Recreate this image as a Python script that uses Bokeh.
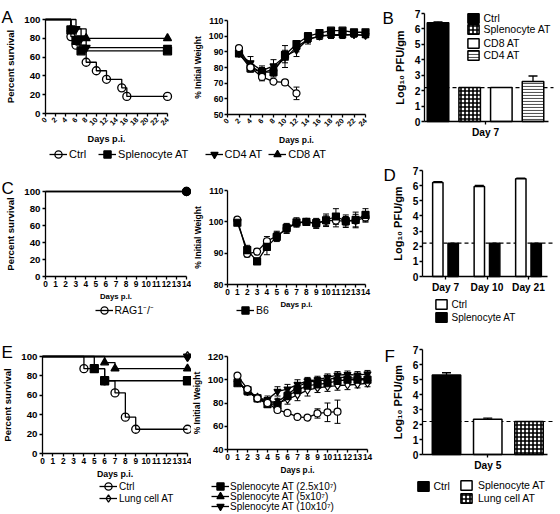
import math
from bokeh.plotting import figure
from bokeh.layouts import row, column
from bokeh.models import (Range1d, FixedTicker, Legend, LegendItem,
                          Label, Whisker, TeeHead, ColumnDataSource)
from bokeh.embed import file_html
from bokeh.resources import INLINE

# ============================ DATA ============================
# Panel A - survival (Kaplan-Meier, %)
a_surv_ctrl_day = [0, 5, 6, 8, 10, 12, 15, 16, 24]
a_surv_ctrl_pct = [100, 81.8, 72.7, 54.5, 45.5, 36.4, 27.3, 18.2, 18.2]
a_surv_spl_day = [0, 5, 6, 7, 24]
a_surv_spl_pct = [100, 88.9, 77.8, 66.7, 66.7]
a_surv_cd4_day = [0, 6, 7, 8, 24]
a_surv_cd4_pct = [100, 90, 80, 70, 70]
a_surv_cd8_day = [0, 5, 8, 24]
a_surv_cd8_pct = [100, 90, 80, 80]

# Panel A - weight (% initial)
a_wt_day = [2, 4, 6, 8, 10, 12, 14, 16, 18, 20, 22, 24]
a_wt_ctrl = [92.4, 80, 74, 71, 70.5, 63.5]
a_wt_ctrl_err = [1.0, 1.5, 2.5, 1.0, 1.0, 4.0]
a_wt_spl = [89, 79.5, 77, 77, 88, 95, 100, 102, 103.5, 103.5, 102.5, 102.5]
a_wt_spl_err = [1.5, 2.5, 3, 3, 3, 2, 2, 1.5, 1.5, 1.5, 1, 1]
a_wt_cd4 = [89, 83, 78, 81, 87, 91, 98, 100, 101, 101, 101, 100.5]
a_wt_cd4_err = [1.5, 4, 3, 4, 7, 4, 3, 2, 2, 2, 1.5, 1.5]
a_wt_cd8 = [88.5, 81, 76.5, 79, 86, 93, 98, 100, 100.5, 100.5, 101, 100.5]
a_wt_cd8_err = [1.5, 2, 2.5, 3, 3, 3, 2, 2, 2, 2, 1.5, 1.5]
a_day_ticks = list(range(0, 25, 2))
a_wt_ticks = [50, 60, 70, 80, 90, 100, 110]
surv_ticks = [0, 20, 40, 60, 80, 100]

# Panel B - lung titre
b_groups = ["Ctrl", "Splenocyte AT", "CD8 AT", "CD4 AT"]
b_log_pfu = [6.4, 2.2, 2.2, 2.6]
b_log_pfu_err = [0.06, 0.0, 0.0, 0.35]
b_day = "Day 7"
detection_limit = 2.2
pfu_ticks = [0, 1, 2, 3, 4, 5, 6, 7]

# Panel C
c_surv_day = [0, 14]
c_surv_rag = [100, 100]
c_surv_b6 = [100, 100]
c_day_ticks = list(range(0, 15))
c_wt_day = list(range(1, 15))
c_wt_rag = [100.7, 89.8, 90.5, 93.8, 95.5, 97.8, 99.6, 100, 99.4, 100.4, 100.4, 100.2, 100.4, 101.4]
c_wt_rag_err = [0.5, 1, 1, 1.5, 1.5, 1.5, 1, 1, 1.5, 1.5, 2, 1.5, 2, 1.5]
c_wt_b6 = [99.7, 91, 87.4, 92, 95.2, 98, 99.8, 100, 99.6, 100.5, 101.7, 100.2, 100.6, 102.2]
c_wt_b6_err = [0.5, 1.5, 1, 2.5, 1.5, 1.5, 1.5, 1, 1.5, 2, 2.5, 2, 2.5, 2]
c_wt_ticks = [80, 90, 100, 110]

# Panel D
d_days = ["Day 7", "Day 10", "Day 21"]
d_ctrl = [6.2, 5.95, 6.45]
d_ctrl_err = [0.06, 0.06, 0.05]
d_spl = [2.2, 2.2, 2.2]

# Panel E
e_surv_ctrl_day = [0, 4, 6, 7, 8, 9, 14]
e_surv_ctrl_pct = [100, 87.5, 75, 62.5, 37.5, 25, 25]
e_surv_s25_day = [0, 5, 6, 14]
e_surv_s25_pct = [100, 87.5, 75, 75]
e_surv_s5_day = [0, 6, 7, 14]
e_surv_s5_pct = [100, 93.75, 87.5, 87.5]
e_surv_s10_day = [0, 14]
e_surv_s10_pct = [100, 100]
e_surv_lung_day = [0, 14]
e_surv_lung_pct = [100, 100]
e_wt_day = list(range(1, 15))
e_wt_ctrl = [103.5, 92, 84, 80, 74, 71.5, 68, 67.5, 71, 72, 72.5]
e_wt_ctrl_err = [1, 1, 1, 1, 1, 1, 1, 1.5, 4, 8, 10]
e_wt_s25 = [97, 91, 84, 79, 78, 86, 91, 95, 96, 97, 99, 100, 100, 100]
e_wt_s25_err = [2, 2, 2, 2, 3, 3, 3, 3, 3, 3, 3, 3, 3, 3]
e_wt_s5 = [100, 89, 85, 81, 81, 87, 94, 98, 99, 100, 102, 102, 101, 101]
e_wt_s5_err = [2, 2, 2, 2, 3, 3, 3, 3, 3, 3, 3, 3, 3, 3]
e_wt_s10 = [99, 90, 84, 83, 90, 92, 96, 99, 100, 102, 104, 104.5, 104, 105]
e_wt_s10_err = [2, 2, 2, 3, 4, 4, 4, 3, 3, 3, 3, 3, 3, 3]
e_wt_lung = [98, 90, 84, 80, 80, 83, 87, 91, 93, 94, 95, 95.5, 96, 97]
e_wt_lung_err = [2, 2, 2, 2, 3, 4, 5, 5, 4, 4, 4, 4, 3, 3]
e_wt_ticks = [40, 60, 80, 100, 120]

# Panel F
f_groups = ["Ctrl", "Splenocyte AT", "Lung cell AT"]
f_log_pfu = [5.3, 2.35, 2.2]
f_log_pfu_err = [0.15, 0.08, 0.0]
f_day = "Day 5"

# ============================ HELPERS ============================
FONT = "Liberation Sans"


def inv(px, m):
    """data value at page pixel px for the mapping m=(a0, a1, p0, p1)"""
    a0, a1, p0, p1 = m
    return a0 + (px - p0) * (a1 - a0) / (p1 - p0)


def make_plot(cell, xm, ym):
    """Frame fills the whole cell; axes are pinned inside it (fixed_location)."""
    cx0, cy0, cx1, cy1 = cell
    p = figure(width=cx1 - cx0, height=cy1 - cy0,
               x_range=Range1d(inv(cx0, xm), inv(cx1, xm)),
               y_range=Range1d(inv(cy1, ym), inv(cy0, ym)),
               min_border=0, title=None, output_backend="svg", toolbar_location=None)
    p.outline_line_color = None
    p.xgrid.visible = False
    p.ygrid.visible = False
    p.background_fill_color = "white"
    p.border_fill_color = "white"
    return p


def style_axis(ax, fixed, bounds, tick_fs, label_fs, label=None, ticks=None,
               orient=None, tick_standoff=2, label_standoff=3):
    ax.fixed_location = fixed
    ax.bounds = bounds
    ax.axis_line_width = 1.3
    ax.axis_line_color = "black"
    ax.major_tick_line_width = 1.3
    ax.major_tick_line_color = "black"
    ax.major_tick_in = 0
    ax.major_tick_out = 3
    ax.minor_tick_line_color = None
    ax.major_label_text_font = FONT
    ax.major_label_text_font_style = "bold"
    ax.major_label_text_font_size = tick_fs
    ax.major_label_text_color = "black"
    ax.major_label_standoff = tick_standoff
    ax.axis_label_text_font = FONT
    ax.axis_label_text_font_style = "bold"
    ax.axis_label_text_font_size = label_fs
    ax.axis_label_text_color = "black"
    ax.axis_label_standoff = label_standoff
    if label:
        ax.axis_label = label
    if ticks is not None:
        ax.ticker = FixedTicker(ticks=ticks, minor_ticks=[])
    if orient is not None:
        ax.major_label_orientation = orient


def km(p, days, pct, marker, fill, size=8):
    rl = p.step(days, pct, mode="after", line_color="black", line_width=1.3)
    rm = p.scatter(days[1:], pct[1:], marker=marker, size=size, line_color="black",
                   fill_color=fill, line_width=1.3)
    return [rl, rm]


def wt(p, days, vals, errs, marker, fill, size=7):
    d = days[:len(vals)]
    src = ColumnDataSource(dict(x=d, lo=[v - e for v, e in zip(vals, errs)],
                                hi=[v + e for v, e in zip(vals, errs)]))
    p.add_layout(Whisker(source=src, base="x", lower="lo", upper="hi",
                         line_color="black", line_width=1,
                         upper_head=TeeHead(size=6, line_color="black", line_width=1),
                         lower_head=TeeHead(size=6, line_color="black", line_width=1)))
    rl = p.line(d, vals, line_color="black", line_width=1.3)
    rm = p.scatter(d, vals, marker=marker, size=size, line_color="black", fill_color=fill,
                   line_width=1.2)
    return [rl, rm]


def leg(p, cell, items, gx_left, top_ref, gw=18, gh=18, spacing=0, standoff=2,
        fs="10px", orientation="horizontal"):
    """One legend (a single row of items) whose top edge sits at page y top_ref."""
    cx0, cy0, cx1, cy1 = cell
    vx = gx_left - cx0
    vy = cy1 - top_ref - gh
    p.add_layout(Legend(items=[LegendItem(label=l, renderers=r) for l, r in items],
                        location=(vx, vy), orientation=orientation, padding=0, margin=0,
                        spacing=spacing, glyph_width=gw, glyph_height=gh,
                        label_standoff=standoff, label_height=6, label_width=6,
                        label_text_font=FONT, label_text_font_size=fs,
                        label_text_color="black", border_line_color=None,
                        background_fill_alpha=0, inactive_fill_alpha=0))


def leg_column(p, cell, items, gx_left, first_center, pitch, gw=18, gh=18, standoff=2, fs="10px"):
    """Vertical stack of single-item legends with a fixed pitch."""
    for i, it in enumerate(items):
        leg(p, cell, [it], gx_left, first_center + i * pitch - gh / 2, gw=gw, gh=gh,
            standoff=standoff, fs=fs)


def letter(p, cell, text, lx, lbase):
    cx0, cy0, cx1, cy1 = cell
    p.add_layout(Label(x=lx - cx0, y=cy1 - lbase, x_units="screen",
                       y_units="screen", text=text, text_font=FONT,
                       text_font_size="17px", text_color="black",
                       text_baseline="alphabetic", text_align="left"))


def bar_err(p, xs, vals, errs):
    keep = [i for i, e in enumerate(errs) if e > 0]
    src = ColumnDataSource(dict(x=[xs[i] for i in keep], lo=[vals[i] for i in keep],
                                hi=[vals[i] + errs[i] for i in keep]))
    p.add_layout(Whisker(source=src, base="x", lower="lo", upper="hi",
                         line_color="black", line_width=1.3,
                         upper_head=TeeHead(size=9, line_color="black", line_width=1.3),
                         lower_head=None))


def bar_axes(p, xm, tick_pos, tick_labels, spine_px, end_px):
    x0 = inv(spine_px, xm)
    x1 = inv(end_px, xm)
    style_axis(p.yaxis[0], x0, (0, 7), "10.2px", "11px", "Log\u2081\u2080 PFU/gm", pfu_ticks,
               tick_standoff=1, label_standoff=6)
    style_axis(p.xaxis[0], 0, (x0, x1), "10.2px", "10px", ticks=tick_pos, tick_standoff=2)
    overrides = {}
    for t, s in zip(tick_pos, tick_labels):
        overrides[t] = s
        overrides[str(t)] = s
    p.xaxis[0].major_label_overrides = overrides
    p.segment(x0=[x0], x1=[inv(end_px + 5, xm)], y0=[detection_limit], y1=[detection_limit],
              line_dash="4 3", line_color="black", line_width=1.2)


CHECK = dict(fill_color="white", hatch_pattern="cross", hatch_color="black",
             hatch_scale=4, hatch_weight=1.6)
STRIPE = dict(fill_color="white", hatch_pattern="horizontal_line", hatch_color="#555555",
              hatch_scale=3, hatch_weight=1.1)

COL1, COL2, COL3 = 191, 378, 560

# ============================ ROW 1 (A, B) ============================
cA1 = (0, 0, COL1, 163)
pA1 = make_plot(cA1, (0, 24, 45, 167), (0, 100, 113, 19))
style_axis(pA1.xaxis[0], 0, (0, 24), "7.3px", "9.2px", "Days p.i.", a_day_ticks, math.pi / 4)
style_axis(pA1.yaxis[0], 0, (0, 100), "9.7px", "9.5px", "Percent survival", surv_ticks, label_standoff=5)
rA_ctrl = km(pA1, a_surv_ctrl_day, a_surv_ctrl_pct, "circle", None)
rA_spl = km(pA1, a_surv_spl_day, a_surv_spl_pct, "square", "black")
km(pA1, a_surv_cd4_day, a_surv_cd4_pct, "inverted_triangle", "black")
km(pA1, a_surv_cd8_day, a_surv_cd8_pct, "triangle", "black")
letter(pA1, cA1, "A", 1, 17)
leg(pA1, cA1, [("Ctrl", rA_ctrl), ("Splenocyte AT", rA_spl)], 49, 144.5,
    spacing=12, standoff=2, fs="11px")

cA2 = (COL1, 0, COL2, 163)
pA2 = make_plot(cA2, (0, 24, 227, 365), (50, 110, 114, 20))
style_axis(pA2.xaxis[0], 50, (0, 24), "7.3px", "8.5px", "Days p.i.", a_day_ticks, math.pi / 4)
style_axis(pA2.yaxis[0], 0, (50, 110), "8.8px", "8.5px", "% Initial Weight", a_wt_ticks,
           tick_standoff=1)
rA_cd8 = wt(pA2, a_wt_day, a_wt_cd8, a_wt_cd8_err, "triangle", "black")
rA_cd4 = wt(pA2, a_wt_day, a_wt_cd4, a_wt_cd4_err, "inverted_triangle", "black")
wt(pA2, a_wt_day, a_wt_spl, a_wt_spl_err, "square", "black")
wt(pA2, a_wt_day, a_wt_ctrl, a_wt_ctrl_err, "circle", "white")
leg(pA2, cA2, [("CD4 AT", rA_cd4), ("CD8 AT", rA_cd8)], 204.5, 144.5,
    spacing=6, standoff=2, fs="11px")

cB = (COL2, 0, COL3, 163)
b_pos = list(range(len(b_groups)))
xmB = (b_pos[0], b_pos[-1], 437.5, 532.5)
pB = make_plot(cB, xmB, (0, 7, 121, 13))
bar_axes(pB, xmB, [sum(b_pos) / len(b_pos)], [b_day], 424, 548)
b_style = {"Ctrl": dict(fill_color="black"), "Splenocyte AT": CHECK,
           "CD8 AT": dict(fill_color="white"), "CD4 AT": STRIPE}
b_r = {}
for xpos, g, v in zip(b_pos, b_groups, b_log_pfu):
    b_r[g] = pB.vbar(x=[xpos], top=[v], bottom=0, width=0.68,
                     line_color="black", line_width=1.5, **b_style[g])
bar_err(pB, b_pos, b_log_pfu, b_log_pfu_err)
leg_column(pB, cB, [("Ctrl", [b_r["Ctrl"]]), ("Splenocyte AT", [b_r["Splenocyte AT"]])],
           465.5, 17.5, 11.5, gw=14, gh=12, standoff=4, fs="10.5px")
leg_column(pB, cB, [("CD8 AT", [b_r["CD8 AT"]]), ("CD4 AT", [b_r["CD4 AT"]])],
           465.5, 43, 12, gw=14, gh=12, standoff=4, fs="10.5px")
letter(pB, cB, "B", 382, 18)

# ============================ ROW 2 (C, D) ============================
cC1 = (0, 163, COL1, 330)
pC1 = make_plot(cC1, (0, 14, 45, 186), (0, 100, 276, 191))
style_axis(pC1.xaxis[0], 0, (0, 14), "8.3px", "7.8px", "Days p.i.", c_day_ticks, tick_standoff=1, label_standoff=2)
style_axis(pC1.yaxis[0], 0, (0, 100), "9.7px", "9.5px", "Percent survival", surv_ticks, label_standoff=5)
rC_rag = km(pC1, c_surv_day, c_surv_rag, "circle", None)
km(pC1, c_surv_day, c_surv_b6, "circle", "black")
letter(pC1, cC1, "C", 1, 188)
leg(pC1, cC1, [("RAG1\u207b/\u207b", rC_rag)], 94.5, 300.5, standoff=2, fs="10.5px")

cC2 = (COL1, 163, COL2, 330)
pC2 = make_plot(cC2, (0, 14, 227, 365), (80, 110, 284, 190))
style_axis(pC2.xaxis[0], 80, (0, 14), "8.3px", "7.8px", "Days p.i.", c_day_ticks, tick_standoff=1, label_standoff=2)
style_axis(pC2.yaxis[0], 0, (80, 110), "8.8px", "8.5px", "% Initial Weight", c_wt_ticks,
           tick_standoff=1)
wt(pC2, c_wt_day, c_wt_rag, c_wt_rag_err, "circle", "white")
rC_b6 = wt(pC2, c_wt_day, c_wt_b6, c_wt_b6_err, "square", "black")
leg(pC2, cC2, [("B6", rC_b6)], 236, 300.5, standoff=2, fs="10.5px")

cD = (COL2, 163, COL3, 330)
d_pos = list(range(len(d_days)))
xmD = (d_pos[0], d_pos[-1], 445, 528)
pD = make_plot(cD, xmD, (0, 7, 276, 170))
bar_axes(pD, xmD, d_pos, d_days, 422, 547)
d_off, d_w = 0.185, 0.25
rD_ctrl = pD.vbar(x=[x - d_off for x in d_pos], top=d_ctrl, bottom=0, width=d_w,
                  fill_color="white", line_color="black", line_width=1.5)
rD_spl = pD.vbar(x=[x + d_off for x in d_pos], top=d_spl, bottom=0, width=d_w,
                 fill_color="black", line_color="black", line_width=1.5)
bar_err(pD, [x - d_off for x in d_pos], d_ctrl, d_ctrl_err)
leg_column(pD, cD, [("Ctrl", [rD_ctrl]), ("Splenocyte AT", [rD_spl])], 433.5, 304, 13,
           gw=14, gh=12, standoff=4, fs="10px")
letter(pD, cD, "D", 383, 175)

# ============================ ROW 3 (E, F) ============================
cE1 = (0, 330, COL1, 514)
pE1 = make_plot(cE1, (0, 14, 42, 187), (0, 100, 453, 356))
style_axis(pE1.xaxis[0], 0, (0, 14), "8.3px", "8.8px", "Days p.i.", c_day_ticks, tick_standoff=1, label_standoff=2)
style_axis(pE1.yaxis[0], 0, (0, 100), "9.7px", "9.5px", "Percent survival", surv_ticks, label_standoff=5)
rE_ctrl = km(pE1, e_surv_ctrl_day, e_surv_ctrl_pct, "circle", None)
km(pE1, e_surv_s25_day, e_surv_s25_pct, "square", "black")
km(pE1, e_surv_s5_day, e_surv_s5_pct, "triangle", "black")
km(pE1, e_surv_s10_day, e_surv_s10_pct, "inverted_triangle", "black")
rE_lung = km(pE1, e_surv_lung_day, e_surv_lung_pct, "diamond", None, size=10)
letter(pE1, cE1, "E", 1, 352)
leg_column(pE1, cE1, [("Ctrl", rE_ctrl), ("Lung cell AT", rE_lung)], 99, 486, 12,
           standoff=2, fs="10px")

cE2 = (COL1, 330, COL2, 514)
pE2 = make_plot(cE2, (0, 14, 227, 367), (40, 120, 449, 356))
style_axis(pE2.xaxis[0], 40, (0, 14), "8.3px", "8.3px", "Days p.i.", c_day_ticks, tick_standoff=1, label_standoff=2)
style_axis(pE2.yaxis[0], 0, (40, 120), "9.5px", "8.5px", "% Initial Weight", e_wt_ticks,
           tick_standoff=1)
wt(pE2, e_wt_day, e_wt_lung, e_wt_lung_err, "diamond", "white", size=8)
rE_s25 = wt(pE2, e_wt_day, e_wt_s25, e_wt_s25_err, "square", "black")
rE_s5 = wt(pE2, e_wt_day, e_wt_s5, e_wt_s5_err, "triangle", "black")
rE_s10 = wt(pE2, e_wt_day, e_wt_s10, e_wt_s10_err, "inverted_triangle", "black")
wt(pE2, e_wt_day, e_wt_ctrl, e_wt_ctrl_err, "circle", "white")
leg_column(pE2, cE2, [("Splenocyte AT (2.5x10\u2077)", rE_s25),
                      ("Splenocyte AT (5x10\u2077)", rE_s5),
                      ("Splenocyte AT (10x10\u2077)", rE_s10)], 211, 486, 10,
           standoff=1, fs="10px")

cF = (COL2, 330, COL3, 514)
f_pos = list(range(len(f_groups)))
xmF = (f_pos[0], f_pos[-1], 446, 528.5)
pF = make_plot(cF, xmF, (0, 7, 454, 349))
bar_axes(pF, xmF, [sum(f_pos) / len(f_pos)], [f_day], 422, 547)
f_style = {"Ctrl": dict(fill_color="black"), "Splenocyte AT": dict(fill_color="white"),
           "Lung cell AT": CHECK}
f_r = {}
for xpos, g, v in zip(f_pos, f_groups, f_log_pfu):
    f_r[g] = pF.vbar(x=[xpos], top=[v], bottom=0, width=0.69,
                     line_color="black", line_width=1.5, **f_style[g])
bar_err(pF, f_pos, f_log_pfu, f_log_pfu_err)
leg(pF, cF, [("Ctrl", [f_r["Ctrl"]])], 415.5, 479.5, gw=14, gh=12, standoff=4, fs="10.5px")
leg_column(pF, cF, [("Splenocyte AT", [f_r["Splenocyte AT"]]),
                    ("Lung cell AT", [f_r["Lung cell AT"]])], 459, 485, 12.5,
           gw=14, gh=12, standoff=5, fs="10.5px")
letter(pF, cF, "F", 384, 356)

# ============================ LAYOUT ============================
layout = column(
    row(pA1, pA2, pB),
    row(pC1, pC2, pD),
    row(pE1, pE2, pF),
)

open("out.html", "w").write(file_html(layout, INLINE))
